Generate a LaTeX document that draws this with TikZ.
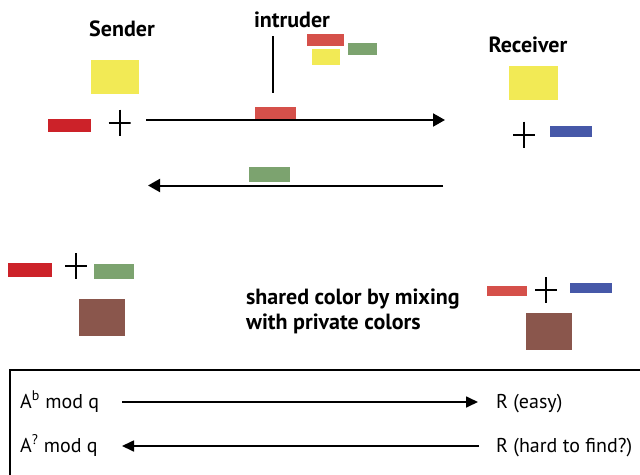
\documentclass[tikz,border=0pt]{standalone}
\usepackage{fontspec}
\setmainfont{PT Sans}
\usetikzlibrary{arrows.meta}

\definecolor{cyellow}{HTML}{F2EA55}
\definecolor{cred}{HTML}{CC2229}
\definecolor{clred}{HTML}{D5504A}
\definecolor{cgreen}{HTML}{7CA36F}
\definecolor{cblue}{HTML}{4658A8}
\definecolor{cbrown}{HTML}{8A564C}

\tikzset{
  swatch/.style={draw=none, fill=#1, inner sep=0pt, outer sep=0pt},
  crossmark/.style={inner sep=0pt, minimum width=22pt, minimum height=26pt,
    path picture={
      \draw[line width=2pt] (path picture bounding box.north) -- (path picture bounding box.south);
      \draw[line width=2pt] (path picture bounding box.west) -- (path picture bounding box.east);
    }},
  title/.style={font=\bfseries\fontsize{22}{24}\selectfont, inner sep=0pt},
  plain/.style={font=\fontsize{20}{22}\selectfont, inner sep=0pt},
  wire/.style={line width=2pt, -{Triangle[length=12pt,width=13pt]}},
  thinwire/.style={line width=1.7pt, -{Triangle[length=12pt,width=11pt]}},
}

\begin{document}
\begin{tikzpicture}[x=1pt, y=-1pt]
\useasboundingbox (0,0) rectangle (640,474);

% --- sender side ---
\node[title] (sender) at (122,29) {Sender};
\node[swatch=cyellow, minimum width=48pt, minimum height=34pt] (sy) at (115,77) {};
\node[swatch=cred, minimum width=43pt, minimum height=13pt] (sr) at (69.5,125.5) {};
\node[crossmark] (sp) at (119.5,122.5) {};

% --- intruder ---
\node[title] (intruder) at (292,20) {intruder};
\coordinate (itop) at (273,36);
\coordinate (ibot) at (273,93);
\draw[line width=2pt] (itop) -- (ibot);
\node[swatch=clred, minimum width=41pt, minimum height=12pt] (ir) at (275.5,113) {};
\node[swatch=clred, minimum width=37pt, minimum height=12pt] (ir2) at (325.5,40) {};
\node[swatch=cyellow, minimum width=28pt, minimum height=16pt] (iy2) at (326,57) {};
\node[swatch=cgreen, minimum width=29pt, minimum height=12pt] (ig2) at (362.5,49) {};
\node[swatch=cgreen, minimum width=41pt, minimum height=15pt] (ig) at (269.5,174.5) {};

% --- receiver side ---
\node[title] (receiver) at (528,45) {Receiver};
\node[swatch=cyellow, minimum width=49pt, minimum height=34pt] (ry) at (533.5,83) {};
\node[crossmark] (rp) at (524,134.5) {};
\node[swatch=cblue, minimum width=42pt, minimum height=11pt] (rb) at (571,131.5) {};

% --- public exchange ---
\coordinate (fwdA) at (146,120);
\coordinate (fwdB) at (445,120);
\draw[wire] (fwdA) -- (fwdB);
\coordinate (backA) at (443,185.5);
\coordinate (backB) at (148,185.5);
\draw[wire] (backA) -- (backB);

% --- mixing on each side ---
\node[swatch=cred, minimum width=44pt, minimum height=14pt] (lr) at (30,270) {};
\node[crossmark] (lp) at (76,266) {};
\node[swatch=cgreen, minimum width=40pt, minimum height=15pt] (lg) at (114,271.5) {};
\node[swatch=cbrown, minimum width=46pt, minimum height=37pt] (lm) at (102,317.5) {};

\node[swatch=clred, minimum width=40pt, minimum height=10pt] (mr) at (507,291) {};
\node[crossmark] (mp) at (546,290) {};
\node[swatch=cblue, minimum width=42pt, minimum height=10pt] (mb) at (591,288) {};
\node[swatch=cbrown, minimum width=46pt, minimum height=37pt] (mm) at (549,331.5) {};

\node[title, anchor=base west] (note1) at (246,304) {shared color by mixing};
\node[title, anchor=base west] (note2) at (246,329) {with private colors};

% --- one-way function panel ---
\draw[line width=2pt] (10,370) rectangle (660,490);
\node[plain, anchor=base west] (fa) at (20,408) {A\textsuperscript{b} mod q};
\node[plain, anchor=base west] (fr) at (496,408) {R (easy)};
\node[plain, anchor=base west] (ia) at (20,452) {A\textsuperscript{?} mod q};
\node[plain, anchor=base west] (ir3) at (496,452) {R (hard to find?)};
\coordinate (f1) at (122,402);
\coordinate (f2) at (478,402);
\draw[thinwire] (f1) -- (f2);
\coordinate (g1) at (479,446);
\coordinate (g2) at (122,446);
\draw[thinwire] (g1) -- (g2);
\end{tikzpicture}
\end{document}
